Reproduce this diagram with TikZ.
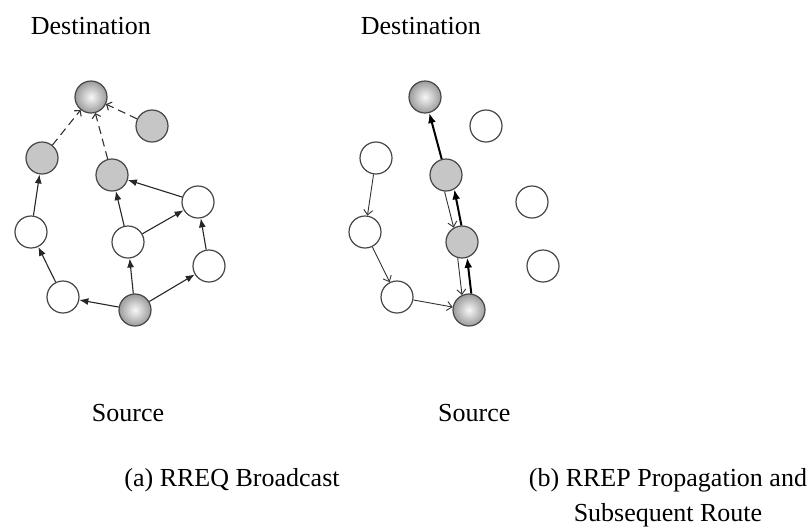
\documentclass[tikz,border=0pt]{standalone}
\usepackage{fontspec}
\setmainfont{Liberation Serif}
\usetikzlibrary{arrows.meta}

\begin{document}
\begin{tikzpicture}[x=1pt,y=-1pt,
  lbl/.style={inner sep=0pt, font=\fontsize{26}{31}\selectfont},
  host/.style={circle, draw=black!72, line width=1.2pt, minimum size=32pt, inner sep=0pt, fill=white},
  relay/.style={host, fill=gray!45},
  endpt/.style={host, shading=radial, inner color=gray!6, outer color=gray!78},
  fwd/.style={draw=black!85, line width=1.1pt, -{Latex[length=9pt,width=7pt]}},
  flood/.style={draw=black!80, line width=1.1pt, dash pattern=on 8pt off 5pt, -{Straight Barb[length=4pt,width=9pt]}},
  back/.style={draw=black!80, line width=0.9pt, -{Straight Barb[length=5pt,width=9pt]}},
  route/.style={draw=black, line width=2pt, -{Latex[length=10pt,width=8pt]}}
]
\useasboundingbox (0,0) rectangle (808,531);

% ---------- (a) RREQ broadcast ----------
\node[endpt] (dst) at (91,97) {};
\node[relay] (g1) at (152,126) {};
\node[relay] (g2) at (42,158) {};
\node[relay] (g3) at (112,175) {};
\node[host]  (w1) at (198,202) {};
\node[host]  (w2) at (31,232) {};
\node[host]  (w3) at (128,242) {};
\node[host]  (w4) at (209,266) {};
\node[host]  (w5) at (63,297) {};
\node[endpt] (src) at (135,310) {};

\draw[fwd] (src) -- (w5);
\draw[fwd] (w5) -- (w2);
\draw[fwd] (w2) -- (g2);
\draw[fwd] (src) -- (w3);
\draw[fwd] (w3) -- (g3);
\draw[fwd] (w3) -- (w1);
\draw[fwd] (w1) -- (g3);
\draw[fwd] (src) -- (w4);
\draw[fwd] (w4) -- (w1);
\draw[flood] (g2) -- (dst);
\draw[flood] (g3) -- (dst);
\draw[flood] (g1) -- (dst);

% ---------- (b) RREP propagation and route ----------
\begin{scope}[xshift=334pt]
\node[endpt] (bdst) at (91,97) {};
\node[host]  (bg1) at (152,126) {};
\node[host]  (bg2) at (42,158) {};
\node[relay] (bg3) at (112,175) {};
\node[host]  (bw1) at (198,202) {};
\node[host]  (bw2) at (31,232) {};
\node[relay] (bw3) at (128,242) {};
\node[host]  (bw4) at (209,266) {};
\node[host]  (bw5) at (63,297) {};
\node[endpt] (bsrc) at (135,310) {};
\end{scope}

\draw[back] (bg2) -- (bw2);
\draw[back] (bw2) -- (bw5);
\draw[back] (bw5) -- (bsrc);
\draw[back] (bg3.-95) -- (bw3.120);
\draw[back] (bw3.-105) -- (bsrc.115);
\draw[route] (bsrc.82) -- (bw3.-72);
\draw[route] (bw3.92) -- (bg3.-60);
\draw[route] (bg3) -- (bdst);

% ---------- labels ----------
\node[lbl, anchor=base west] (dlabA) at (30.7,34.3) {Destination};
\node[lbl, anchor=base west] (dlabB) at (360.7,34.3) {Destination};
\node[lbl, anchor=base west] (slabA) at (91.7,421) {Source};
\node[lbl, anchor=base west] (slabB) at (438,421) {Source};
\node[lbl, anchor=base] (capA) at (232,486) {(a) RREQ Broadcast};
\node[lbl, anchor=base] (capB1) at (668,486) {(b) RREP Propagation and};
\node[lbl, anchor=base] (capB2) at (668,521) {Subsequent Route};
\end{tikzpicture}
\end{document}
